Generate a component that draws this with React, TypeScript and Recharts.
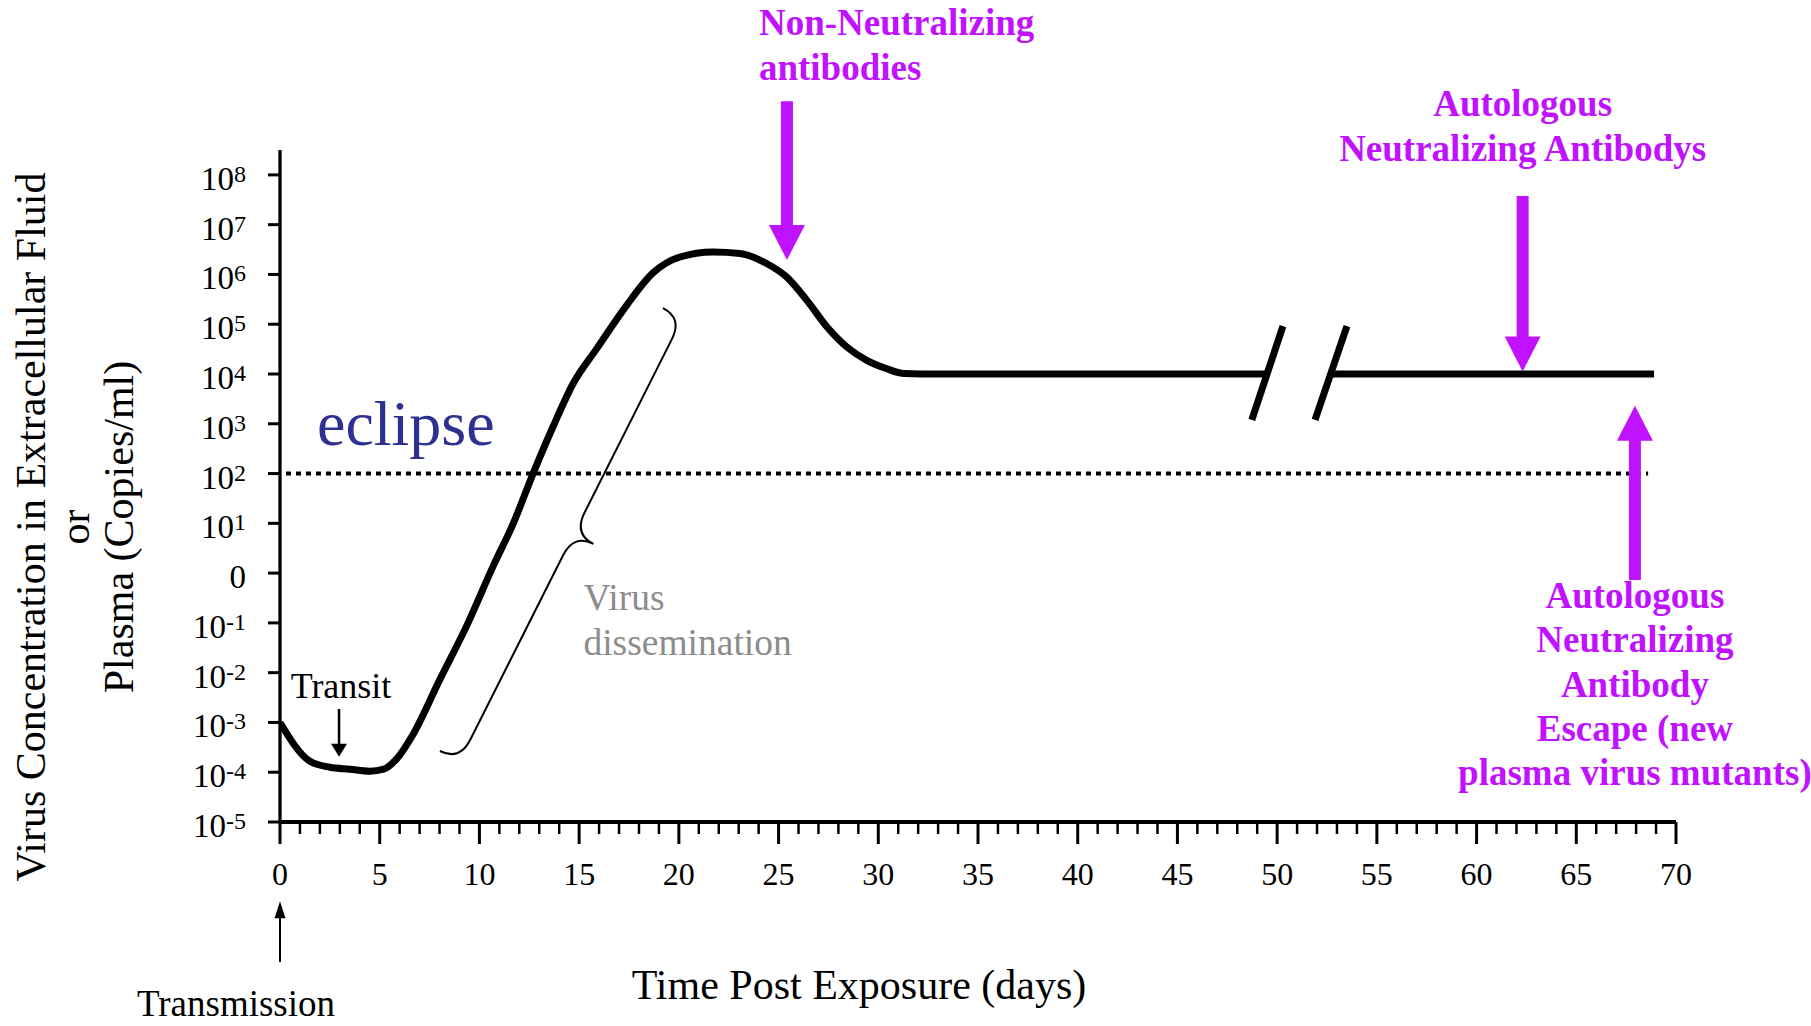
import React from 'react';
import { LineChart, Line, XAxis, YAxis, ReferenceLine, ReferenceDot } from 'recharts';

const SERIF = '"Liberation Serif", "Times New Roman", serif';
const PURPLE = '#C012FF';

// days post exposure / log10 copies per ml (null = axis break)
const days = [0, 1.5, 2.5, 3.5, 4.5, 5.2, 5.85, 6.7, 8.0, 9.36, 10.7, 11.7, 12.7, 13.7, 14.7, 15.9, 17.4, 18.7, 20.06, 21.7, 23.07, 24.4, 25.4, 26.4, 27.42, 28.4, 29.4, 30.4, 31.3, 33, 49.4, 51, 52.8, 68.9];
const logCopies = [-3.0, -3.78, -3.9, -3.94, -3.98, -3.94, -3.73, -3.22, -2.15, -1.06, 0.15, 1.0, 2.01, 2.95, 3.81, 4.52, 5.39, 6.03, 6.35, 6.45, 6.42, 6.22, 5.95, 5.49, 4.95, 4.55, 4.28, 4.11, 4.01, 4.0, 4.0, null, 4.0, 4.0];

const dayTicks = Array.from({ length: 71 }, (_, i) => i);
const logTicks = [-5, -4, -3, -2, -1, 0, 1, 2, 3, 4, 5, 6, 7, 8];
const detectionLimit = 2;

const lineData = days.map((d, i) => ({ day: d, log: logCopies[i] }));

const Lines = ({ x, y, lines, size, lh, anchor = 'start', weight = 400, color = '#000' }: any) => (
  <text x={x} y={y} fontFamily={SERIF} fontSize={size} fontWeight={weight} fill={color} textAnchor={anchor}>
    {lines.map((t: string, i: number) => (
      <tspan key={i} x={x} y={y + i * lh}>{t}</tspan>
    ))}
  </text>
);

const arrow = (shaftW: number, headW: number, headLen: number, color: string, extra?: (p: any) => React.ReactNode) => (p: any) => {
  const { x1, y1, x2, y2 } = p;
  const len = Math.hypot(x2 - x1, y2 - y1);
  const ux = (x2 - x1) / len, uy = (y2 - y1) / len;
  const nx = -uy, ny = ux;
  const bx = x2 - ux * headLen, by = y2 - uy * headLen;
  const s = shaftW / 2, h = headW / 2;
  const shaft = [[x1 + nx * s, y1 + ny * s], [bx + ux + nx * s, by + uy + ny * s], [bx + ux - nx * s, by + uy - ny * s], [x1 - nx * s, y1 - ny * s]];
  const head = [[bx + nx * h, by + ny * h], [x2, y2], [bx - nx * h, by - ny * h]];
  return (
    <g>
      <polygon points={shaft.map((q) => q.join(',')).join(' ')} fill={color} />
      <polygon points={head.map((q) => q.join(',')).join(' ')} fill={color} />
      {extra ? extra(p) : null}
    </g>
  );
};

const braceShape = (p: any) => {
  const { x1, y1, x2, y2 } = p;
  const L = Math.hypot(x2 - x1, y2 - y1);
  const ux = (x2 - x1) / L, uy = (y2 - y1) / L;
  const nx = uy, ny = -ux;
  const w = 44, h = 24, m = L / 2 - 6;
  const P = (a: number, b: number) => `${x1 + ux * a + nx * b},${y1 + uy * a + ny * b}`;
  const d = `M${P(0, 0)} Q${P(0, w / 2)} ${P(h, w / 2)} L${P(m - h, w / 2)} Q${P(m, w / 2)} ${P(m, w)} Q${P(m, w / 2)} ${P(m + h, w / 2)} L${P(L - h, w / 2)} Q${P(L, w / 2)} ${P(L, 0)}`;
  const tx = x1 + ux * m + nx * w, ty = y1 + uy * m + ny * w;
  return (
    <g>
      <path d={d} fill="none" stroke="#000" strokeWidth={2} />
      <Lines x={tx - 10} y={ty + 66} lines={['Virus', 'dissemination']} size={37.5} lh={45} color="#8C8C8C" />
    </g>
  );
};

const XTick = ({ x, y, payload }: any) => {
  const v = payload.value;
  const major = v % 5 === 0;
  return (
    <g>
      <line x1={x} x2={x} y1={y} y2={y + (major ? 22 : 12)} stroke="#000" strokeWidth={major ? 3 : 2.5} />
      {major && (
        <text x={x} y={y + 63} textAnchor="middle" fontFamily={SERIF} fontSize={32} fill="#000">{v}</text>
      )}
    </g>
  );
};

const YTick = ({ x, y, payload }: any) => {
  const e = payload.value;
  if (e === 0) {
    return <text x={x} y={y + 15} textAnchor="end" fontFamily={SERIF} fontSize={33} fill="#000">0</text>;
  }
  return (
    <text x={x} y={y + 15} textAnchor="end" fontFamily={SERIF} fontSize={33} fill="#000">
      10<tspan dy={-8} fontSize={24}>{e < 0 ? `-${-e}` : e}</tspan>
    </text>
  );
};

const yTitle = (props: any) => {
  const vb = props.viewBox;
  const cy = vb.y + vb.height / 2 + 41;
  const lines = ['Virus Concentration in Extracellular Fluid', 'or', 'Plasma (Copies/ml)'];
  return (
    <g>
      {lines.map((t, i) => (
        <text key={i} transform={`translate(${45 + i * 44}, ${cy}) rotate(-90)`} textAnchor="middle" fontFamily={SERIF} fontSize={42} fill="#000">{t}</text>
      ))}
    </g>
  );
};

const xTitle = (props: any) => {
  const vb = props.viewBox;
  return (
    <text x={vb.x + 579} y={vb.y + 177} textAnchor="middle" fontFamily={SERIF} fontSize={42} fill="#000">Time Post Exposure (days)</text>
  );
};

export default function App() {
  return (
    <div style={{ width: 1811, height: 1026, background: '#fff' }}>
      <style>{'body{margin:0}'}</style>
      <LineChart width={1811} height={1026} data={lineData} margin={{ top: 150, right: 135, bottom: 0, left: 0 }}>
        <XAxis
          dataKey="day"
          type="number"
          domain={[0, 70]}
          allowDataOverflow
          ticks={dayTicks}
          interval={0}
          tickSize={0}
          tickMargin={0}
          tickLine={false}
          tick={<XTick />}
          height={204}
          axisLine={{ stroke: '#000', strokeWidth: 4 }}
          label={xTitle}
        />
        <YAxis
          type="number"
          domain={[-5, 8.5]}
          allowDataOverflow
          ticks={logTicks}
          interval={0}
          width={280}
          tickSize={12}
          tickMargin={22}
          tickLine={{ stroke: '#000', strokeWidth: 3 }}
          axisLine={{ stroke: '#000', strokeWidth: 3.3 }}
          tick={<YTick />}
          label={yTitle}
        />

        <ReferenceLine
          segment={[{ x: 0.3, y: detectionLimit }, { x: 68.6, y: detectionLimit }]}
          stroke="#000"
          strokeWidth={4}
          strokeDasharray="5 5"
        />

        <Line
          dataKey="log"
          type="monotone"
          stroke="#000"
          strokeWidth={7}
          dot={false}
          activeDot={false}
          connectNulls={false}
          isAnimationActive={false}
        />

        {/* axis break marks */}
        <ReferenceLine segment={[{ x: 48.73, y: 3.08 }, { x: 50.29, y: 4.96 }]} stroke="#000" strokeWidth={7} />
        <ReferenceLine segment={[{ x: 51.9, y: 3.08 }, { x: 53.5, y: 4.96 }]} stroke="#000" strokeWidth={7} />

        <ReferenceLine segment={[{ x: 19.2, y: 5.325 }, { x: 8.02, y: -3.574 }]} shape={braceShape} ifOverflow="visible" />

        <ReferenceDot
          x={1.855}
          y={2.573}
          r={0}
          ifOverflow="visible"
          shape={(p: any) => (
            <text x={p.cx} y={p.cy} fontFamily={SERIF} fontSize={64} fill="#2E3192">eclipse</text>
          )}
        />

        <ReferenceLine
          segment={[{ x: 2.96, y: -2.73 }, { x: 2.96, y: -3.69 }]}
          ifOverflow="visible"
          shape={arrow(2.5, 16, 13, '#000', (p) => (
            <Lines x={p.x1 + 2} y={p.y1 - 11} lines={['Transit']} size={36} lh={0} anchor="middle" />
          ))}
        />

        <ReferenceLine
          segment={[{ x: 0, y: -7.81 }, { x: 0, y: -6.59 }]}
          ifOverflow="visible"
          shape={arrow(2, 11, 17, '#000', (p) => (
            <Lines x={p.x1 - 44} y={p.y1 + 54} lines={['Transmission']} size={37} lh={0} anchor="middle" />
          ))}
        />

        <ReferenceLine
          segment={[{ x: 25.42, y: 9.48 }, { x: 25.42, y: 6.29 }]}
          ifOverflow="visible"
          shape={arrow(12, 36, 35, PURPLE, (p) => (
            <Lines x={p.x1 - 28} y={p.y1 - 66} lines={['Non-Neutralizing', 'antibodies']} size={37} lh={45} weight={700} color={PURPLE} />
          ))}
        />

        <ReferenceLine
          segment={[{ x: 62.31, y: 7.575 }, { x: 62.31, y: 4.05 }]}
          ifOverflow="visible"
          shape={arrow(12, 36, 35, PURPLE, (p) => (
            <Lines x={p.x1} y={p.y1 - 80} lines={['Autologous', 'Neutralizing Antibodys']} size={37} lh={45} anchor="middle" weight={700} color={PURPLE} />
          ))}
        />

        <ReferenceLine
          segment={[{ x: 67.94, y: -0.14 }, { x: 67.94, y: 3.36 }]}
          ifOverflow="visible"
          shape={arrow(12, 36, 35, PURPLE, (p) => (
            <Lines
              x={p.x1}
              y={p.y1 + 28}
              lines={['Autologous', 'Neutralizing', 'Antibody', 'Escape (new', 'plasma virus mutants)']}
              size={37}
              lh={44.3}
              anchor="middle"
              weight={700}
              color={PURPLE}
            />
          ))}
        />
      </LineChart>
    </div>
  );
}
